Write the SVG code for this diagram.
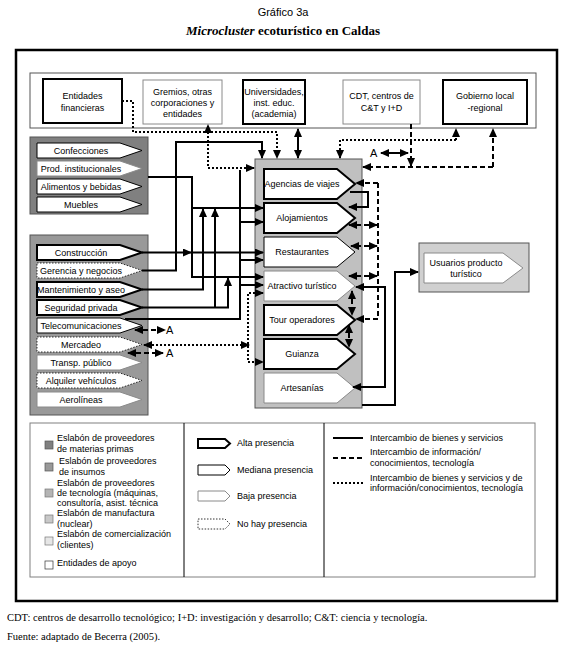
<svg xmlns="http://www.w3.org/2000/svg" width="566" height="647" viewBox="0 0 566 647">
<defs>
<marker id="ah" markerUnits="userSpaceOnUse" markerWidth="9" markerHeight="8" refX="8" refY="4" orient="auto-start-reverse"><path d="M0,0 L9,4 L0,8 z" fill="#000"/></marker>
<style>
text{font-family:"Liberation Sans",Arial,sans-serif;font-size:9px;fill:#000}
.c{text-anchor:middle}
.alta{fill:#fff;stroke:#000;stroke-width:2}
.med{fill:#fff;stroke:#000;stroke-width:1}
.baja{fill:#fff;stroke:#8a8a8a;stroke-width:1}
.none{fill:#fff;stroke:#000;stroke-width:0.8;stroke-dasharray:1.5,1.5}
.s{fill:none;stroke:#000;stroke-width:2}
.d{fill:none;stroke:#000;stroke-width:2;stroke-dasharray:5,3}
.o{fill:none;stroke:#000;stroke-width:2;stroke-dasharray:2,2}
.grp{stroke:#555;stroke-width:1}
.ft{font-family:"Liberation Serif","Times New Roman",serif;font-size:10.5px}
</style>
</defs>
<rect width="566" height="647" fill="#fff"/>
<text x="283" y="16" class="c" style="font-size:11px">Gráfico 3a</text>
<text x="283" y="35" class="c" style="font-family:'Liberation Serif','Times New Roman',serif;font-size:13px;font-weight:bold"><tspan font-style="italic">Microcluster</tspan> ecoturístico en Caldas</text>
<rect x="16" y="50" width="541" height="551" fill="none" stroke="#000" stroke-width="2.5"/>

<g id="apoyo">
<rect x="30" y="73" width="506" height="55" fill="#fff" stroke="#555" stroke-width="1"/>
<g id="entidades"><rect x="43" y="79" width="79" height="44" class="alta"/><text x="82.5" y="99" class="c">Entidades</text><text x="82.5" y="111" class="c">financieras</text></g>
<g id="gremios"><rect x="143" y="80" width="79" height="44" class="baja"/><text x="182.5" y="95" class="c">Gremios, otras</text><text x="182.5" y="106" class="c">corporaciones y</text><text x="182.5" y="117" class="c">entidades</text></g>
<g id="universidades"><rect x="243" y="80" width="62" height="44" class="alta"/><text x="274" y="95" class="c">Universidades,</text><text x="274" y="106" class="c">inst. educ.</text><text x="274" y="117" class="c">(academia)</text></g>
<g id="cdt"><rect x="343" y="80" width="77" height="44" class="baja"/><text x="381.5" y="99" class="c">CDT, centros de</text><text x="381.5" y="111" class="c">C&amp;T y I+D</text></g>
<g id="gobierno"><rect x="443" y="80" width="84" height="44" class="alta"/><text x="485" y="99" class="c">Gobierno local</text><text x="485" y="111" class="c">-regional</text></g>
</g>

<g id="materias-primas">
<rect x="30" y="137" width="118" height="77" fill="#808080" class="grp"/>
<g id="confecciones"><path d="M37,143 H120 L142,150.5 L120,158 H37 Z" class="med"/><text x="81" y="153.5" class="c">Confecciones</text></g>
<g id="prod-inst"><path d="M37,161 H120 L142,168.5 L120,176 H37 Z" class="baja"/><text x="81" y="171.5" class="c">Prod. institucionales</text></g>
<g id="alimentos"><path d="M37,179 H120 L142,186.5 L120,194 H37 Z" class="med"/><text x="81" y="189.5" class="c">Alimentos y bebidas</text></g>
<g id="muebles"><path d="M37,197 H120 L142,204.5 L120,212 H37 Z" class="med"/><text x="81" y="207.5" class="c">Muebles</text></g>
</g>

<g id="insumos">
<rect x="30" y="235" width="118" height="180" fill="#999" class="grp"/>
<g id="construccion"><path d="M37,245 H120 L142,252.5 L120,260 H37 Z" class="alta"/><text x="81" y="255.5" class="c">Construcción</text></g>
<g id="gerencia"><path d="M37,263 H120 L142,270.5 L120,278 H37 Z" class="none"/><text x="81" y="273.5" class="c">Gerencia y negocios</text></g>
<g id="mantenimiento"><path d="M37,282 H120 L142,289.5 L120,297 H37 Z" class="alta"/><text x="81" y="292.5" class="c">Mantenimiento y aseo</text></g>
<g id="seguridad"><path d="M37,300 H120 L142,307.5 L120,315 H37 Z" class="alta"/><text x="81" y="310.5" class="c">Seguridad privada</text></g>
<g id="telecom"><path d="M37,318 H120 L142,325.5 L120,333 H37 Z" class="med"/><text x="81" y="328.5" class="c">Telecomunicaciones</text></g>
<g id="mercadeo"><path d="M37,337 H120 L142,344.5 L120,352 H37 Z" class="none"/><text x="81" y="347.5" class="c">Mercadeo</text></g>
<g id="transp"><path d="M37,355 H120 L142,362.5 L120,370 H37 Z" class="baja"/><text x="81" y="365.5" class="c">Transp. público</text></g>
<g id="alquiler"><path d="M37,373 H120 L142,380.5 L120,388 H37 Z" class="none"/><text x="81" y="383.5" class="c">Alquiler vehículos</text></g>
<g id="aerolineas"><path d="M37,392 H120 L142,399.5 L120,407 H37 Z" class="baja"/><text x="81" y="402.5" class="c">Aerolíneas</text></g>
</g>

<g id="nucleo">
<rect x="255" y="159" width="107" height="249" fill="#c0c0c0" class="grp"/>
<g id="agencias"><path d="M264,169 H337 L355,184 L337,199 H264 Z" class="alta"/><text x="302" y="187" class="c">Agencias de viajes</text></g>
<g id="alojamientos"><path d="M264,203 H337 L355,218 L337,233 H264 Z" class="alta"/><text x="302" y="221" class="c">Alojamientos</text></g>
<g id="restaurantes"><path d="M264,237 H337 L355,252 L337,267 H264 Z" class="med"/><text x="302" y="255" class="c">Restaurantes</text></g>
<g id="atractivo"><path d="M264,271 H337 L355,286 L337,301 H264 Z" class="baja"/><text x="302" y="289" class="c">Atractivo turístico</text></g>
<g id="tour"><path d="M264,305 H337 L355,320 L337,335 H264 Z" class="alta"/><text x="302" y="323" class="c">Tour operadores</text></g>
<g id="guianza"><path d="M264,339 H337 L355,354 L337,369 H264 Z" class="alta"/><text x="302" y="357" class="c">Guianza</text></g>
<g id="artesanias"><path d="M264,373 H337 L355,388 L337,403 H264 Z" class="baja"/><text x="302" y="391" class="c">Artesanías</text></g>
</g>

<g id="usuarios">
<rect x="419" y="243" width="110" height="49" fill="#d0d0d0" class="grp"/>
<path d="M424,253 H503 L523,268 L503,283 H424 Z" class="baja"/>
<text x="466" y="266" class="c">Usuarios producto</text>
<text x="466" y="277" class="c">turístico</text>
</g>

<g id="connectors">
<path d="M142,270.5 H176 V142 H262 V158" class="s" marker-end="url(#ah)"/>
<path d="M148,177 H192 V277 H263" class="s" marker-end="url(#ah)"/>
<path d="M192,208 H263" class="s" marker-end="url(#ah)"/>
<path d="M142,252.5 H191" class="s" marker-end="url(#ah)"/>
<path d="M192,252.5 H263" class="s" marker-end="url(#ah)"/>
<path d="M142,289.5 H203 V209" class="s" marker-end="url(#ah)"/>
<path d="M142,307.5 H228 V278" class="s" marker-end="url(#ah)"/>
<path d="M215,307.5 V209" class="s" marker-end="url(#ah)"/>
<path d="M125,319 H240 V170" class="s"/>
<path d="M240,222 H263" class="s" marker-end="url(#ah)"/>
<path d="M240,260 H263" class="s" marker-end="url(#ah)"/>
<path d="M240,285 H263" class="s" marker-end="url(#ah)"/>
<path d="M298,129 V158" class="s" marker-start="url(#ah)" marker-end="url(#ah)"/>
<path d="M350,192 H368 V207 H349" class="s" marker-end="url(#ah)"/>
<path d="M362,405 H395 V272 H418" class="s" marker-end="url(#ah)"/>
<path d="M356,287 H385 V387 H353" class="s" marker-start="url(#ah)" marker-end="url(#ah)"/>
<path d="M381,153 H408" class="s" marker-start="url(#ah)" marker-end="url(#ah)"/>
<path d="M411,124 V166" class="d" marker-end="url(#ah)"/>
<path d="M493,167 V129" class="d" marker-end="url(#ah)"/>
<path d="M493,167 H363" class="d" marker-end="url(#ah)"/>
<path d="M378,183 V319" class="d"/>
<path d="M378,183 H356" class="d" marker-end="url(#ah)"/>
<path d="M377,225 H349" class="d" marker-start="url(#ah)" marker-end="url(#ah)"/>
<path d="M377,246 H351" class="d" marker-start="url(#ah)" marker-end="url(#ah)"/>
<path d="M377,276 H349" class="d" marker-start="url(#ah)" marker-end="url(#ah)"/>
<path d="M378,319 H356" class="d" marker-end="url(#ah)"/>
<path d="M352,291 V315" class="d" marker-start="url(#ah)" marker-end="url(#ah)"/>
<path d="M349,325 V347" class="d" marker-start="url(#ah)" marker-end="url(#ah)"/>
<path d="M135,330 H165" class="d" marker-start="url(#ah)" marker-end="url(#ah)"/>
<path d="M128,353 H163" class="d" marker-start="url(#ah)" marker-end="url(#ah)"/>
<path d="M122,101 H133 V132 H277 V158" class="o" marker-end="url(#ah)"/>
<path d="M208,132 V125" class="o" marker-end="url(#ah)"/>
<path d="M208,132 V168 H254" class="o" marker-end="url(#ah)"/>
<path d="M456,140 V129" class="o" marker-end="url(#ah)"/>
<path d="M456,140 H340 V158" class="o" marker-end="url(#ah)"/>
<path d="M263,293 H248 V362 H263" class="o" marker-start="url(#ah)" marker-end="url(#ah)"/>
<path d="M144,345 H249" class="o" marker-start="url(#ah)" marker-end="url(#ah)"/>
<text x="166" y="334" style="font-size:11px">A</text>
<text x="166" y="357" style="font-size:11px">A</text>
<text x="370" y="157" style="font-size:11px">A</text>
</g>

<g id="leyenda">
<rect x="30" y="423" width="505" height="154" fill="#fff" stroke="#808080" stroke-width="1"/>
<line x1="184" y1="423" x2="184" y2="577" stroke="#000" stroke-width="1"/>
<line x1="324" y1="423" x2="324" y2="577" stroke="#000" stroke-width="1"/>
<rect x="45" y="441" width="8" height="8" fill="#808080" stroke="#555" stroke-width="0.7"/>
<rect x="45" y="463" width="8" height="8" fill="#999" stroke="#555" stroke-width="0.7"/>
<rect x="45" y="489" width="8" height="8" fill="#b4b4b4" stroke="#777" stroke-width="0.7"/>
<rect x="45" y="515" width="8" height="8" fill="#c8c8c8" stroke="#777" stroke-width="0.7"/>
<rect x="45" y="537" width="8" height="8" fill="#e6e6e6" stroke="#777" stroke-width="0.7"/>
<rect x="45" y="561" width="8" height="8" fill="#fff" stroke="#333" stroke-width="0.7"/>
<text x="57" y="441">Eslabón de proveedores</text>
<text x="57" y="452">de materias primas</text>
<text x="59" y="464">Eslabón de proveedores</text>
<text x="59" y="475">de insumos</text>
<text x="57" y="486">Eslabón de proveedores</text>
<text x="57" y="496">de tecnología (máquinas,</text>
<text x="57" y="506">consultoría, asist. técnica</text>
<text x="57" y="516">Eslabón de manufactura</text>
<text x="57" y="527">(nuclear)</text>
<text x="57" y="537">Eslabón de comercialización</text>
<text x="57" y="548">(clientes)</text>
<text x="57" y="566">Entidades de apoyo</text>
<path d="M198,439 H225 L230,443.5 L225,448 H198 Z" class="alta"/>
<path d="M198,465 H225 L230,470 L225,475 H198 Z" class="med"/>
<path d="M198,491 H225 L230,496 L225,501 H198 Z" class="baja"/>
<path d="M198,519 H225 L230,524 L225,529 H198 Z" class="none"/>
<text x="237" y="446">Alta presencia</text>
<text x="237" y="473">Mediana presencia</text>
<text x="237" y="499">Baja presencia</text>
<text x="237" y="527">No hay presencia</text>
<line x1="333" y1="438" x2="363" y2="438" class="s"/>
<line x1="333" y1="458" x2="363" y2="458" class="d"/>
<line x1="333" y1="483" x2="363" y2="483" class="o"/>
<text x="370" y="441">Intercambio de bienes y servicios</text>
<text x="370" y="455">Intercambio de información/</text>
<text x="370" y="466">conocimientos, tecnología</text>
<text x="370" y="481">Intercambio de bienes y servicios y de</text>
<text x="370" y="491">información/conocimientos, tecnología</text>
</g>

<text x="7" y="621" class="ft">CDT: centros de desarrollo tecnológico; I+D: investigación y desarrollo; C&amp;T: ciencia y tecnología.</text>
<text x="7" y="640" class="ft">Fuente: adaptado de Becerra (2005).</text>
</svg>
